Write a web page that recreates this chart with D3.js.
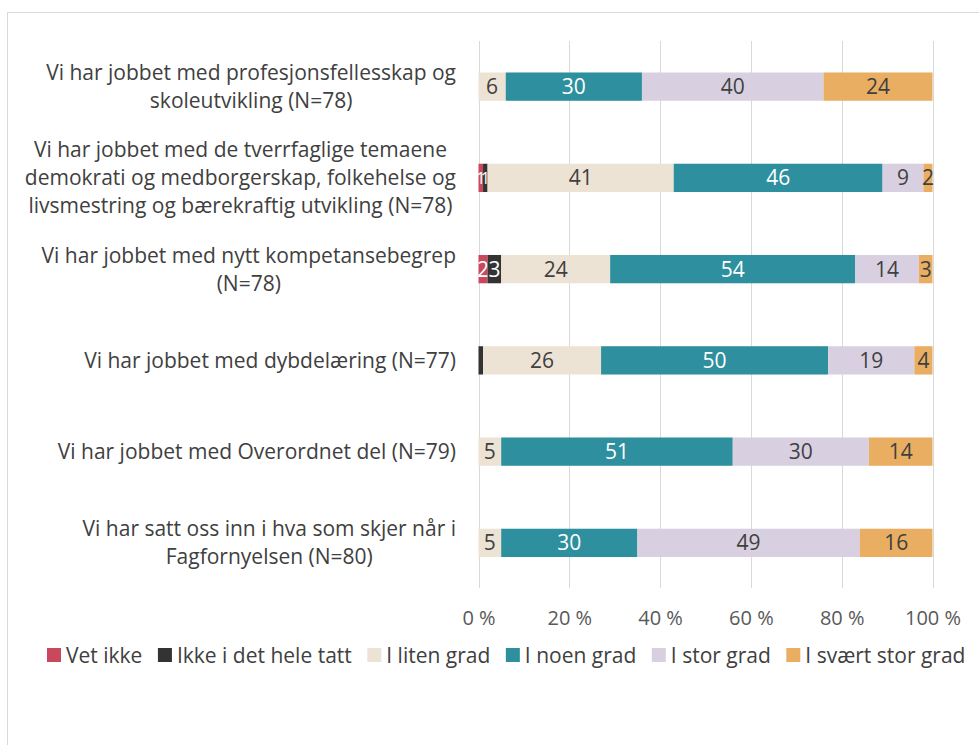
<!DOCTYPE html>
<html>
<head>
<meta charset="utf-8">
<script src="https://cdn.jsdelivr.net/npm/d3@7"></script>
<style>
  body { margin: 0; background: #fff; }
  svg text { font-family: "Open Sans", sans-serif; }
</style>
</head>
<body>
<div class="graphic"></div>
<script>
let categories = [
    ["Vi har jobbet med profesjonsfellesskap og", "skoleutvikling (N=78)"],
    ["Vi har jobbet med de tverrfaglige temaene", "demokrati og medborgerskap, folkehelse og", "livsmestring og bærekraftig utvikling (N=78)"],
    ["Vi har jobbet med nytt kompetansebegrep", "(N=78)"],
    ["Vi har jobbet med dybdelæring (N=77)"],
    ["Vi har jobbet med Overordnet del (N=79)"],
    ["Vi har satt oss inn i hva som skjer når i", "Fagfornyelsen (N=80)"]
];
let seriesNames = ["Vet ikke", "Ikke i det hele tatt", "I liten grad", "I noen grad", "I stor grad", "I svært stor grad"];
let vetIkke      = [0, 1, 2, 0, 0, 0];
let ikkeIHele    = [0, 1, 3, 1, 0, 0];
let litenGrad    = [6, 41, 24, 26, 5, 5];
let noenGrad     = [30, 46, 54, 50, 51, 30];
let storGrad     = [40, 9, 14, 19, 30, 49];
let sværtStor    = [24, 2, 3, 4, 14, 16];
let hiddenLabels = [[3, 1]];   // [category, series] shown without a number
let tickValues = [0, 20, 40, 60, 80, 100];

let colors = ["#c9485b", "#333333", "#ede3d5", "#2e8f9e", "#d8d0e0", "#e9ae62"];
let labelColors = ["#ffffff", "#ffffff", "#404040", "#ffffff", "#404040", "#404040"];

let svg = d3.select(".graphic")
            .append("svg")
            .attr("width", 979)
            .attr("height", 745);

// chart frame
svg.append("rect")
    .attr("x", 7.5).attr("y", 12.5)
    .attr("width", 1000).attr("height", 800)
    .attr("fill", "none").attr("stroke", "#d9d9d9");

let seriesValues = [vetIkke, ikkeIHele, litenGrad, noenGrad, storGrad, sværtStor];
let rows = categories.map((c, i) => {
    let row = { idx: i };
    seriesNames.forEach((s, j) => row[s] = seriesValues[j][i]);
    return row;
});
let stacked = d3.stack().keys(seriesNames)(rows);

let x = d3.scaleLinear().domain([0, 100]).range([478.5, 932.5]);
let y = d3.scaleBand().domain(d3.range(categories.length)).range([41, 588.5]).paddingInner(0.69).paddingOuter(0.345);

// gridlines
svg.append("g").selectAll("line")
    .data(tickValues)
    .join("line")
    .attr("x1", d => Math.round(x(d)) + 0.5)
    .attr("x2", d => Math.round(x(d)) + 0.5)
    .attr("y1", 41).attr("y2", 588)
    .attr("stroke", "#d9d9d9").attr("stroke-width", 1);

// x axis
let xAxis = svg.append("g")
    .attr("transform", "translate(0,588)")
    .call(d3.axisBottom(x).tickValues(tickValues).tickSize(0).tickPadding(23).tickFormat(d => d + " %"));
xAxis.select(".domain").remove();
xAxis.selectAll("text")
    .attr("fill", "#595959")
    .style("font-family", "'Open Sans', sans-serif")
    .style("font-size", "20px");

// bars
let groups = svg.append("g").selectAll("g")
    .data(stacked)
    .join("g")
    .attr("fill", (d, i) => colors[i]);

groups.selectAll("rect")
    .data(d => d)
    .join("rect")
    .attr("x", d => x(d[0]))
    .attr("y", d => y(d.data.idx))
    .attr("width", d => x(d[1]) - x(d[0]))
    .attr("height", y.bandwidth());

// value labels
groups.each(function(series, si) {
    d3.select(this).selectAll("text")
        .data(series.filter(d => d[1] - d[0] > 0 &&
            !hiddenLabels.some(h => h[0] === d.data.idx && h[1] === si)))
        .join("text")
        .attr("x", d => (x(d[0]) + x(d[1])) / 2)
        .attr("y", d => y(d.data.idx) + y.bandwidth() / 2)
        .attr("dy", "0.36em")
        .attr("text-anchor", "middle")
        .attr("fill", labelColors[si])
        .style("font-size", d => (d[1] - d[0] < 2 ? "16px" : "21px"))
        .text(d => d[1] - d[0]);
});

// category labels
let lineH = 28;
categories.forEach((lines, i) => {
    let g = svg.append("g");
    let cy = y(i) + y.bandwidth() / 2;
    let texts = g.selectAll("text")
        .data(lines)
        .join("text")
        .attr("x", 0)
        .attr("y", (d, k) => cy + (k - (lines.length - 1) / 2) * lineH)
        .attr("dy", "0.36em")
        .attr("text-anchor", "middle")
        .attr("fill", "#404040")
        .style("font-size", "21px")
        .text(d => d);
    let maxW = d3.max(texts.nodes(), n => n.getComputedTextLength());
    g.attr("transform", "translate(" + (456 - maxW / 2) + ",0)");
});

// legend
let legend = svg.append("g").attr("transform", "translate(0,655)");
let lx = 47;
seriesNames.forEach((name, i) => {
    let item = legend.append("g").attr("transform", "translate(" + lx + ",0)");
    item.append("rect")
        .attr("x", 0).attr("y", -7)
        .attr("width", 14).attr("height", 14)
        .attr("fill", colors[i]);
    let t = item.append("text")
        .attr("x", 19).attr("y", 0)
        .attr("dy", "0.36em")
        .attr("fill", "#404040")
        .style("font-size", "21px")
        .text(name);
    lx += 19 + t.node().getComputedTextLength() + 15.5;
});
</script>
</body>
</html>
